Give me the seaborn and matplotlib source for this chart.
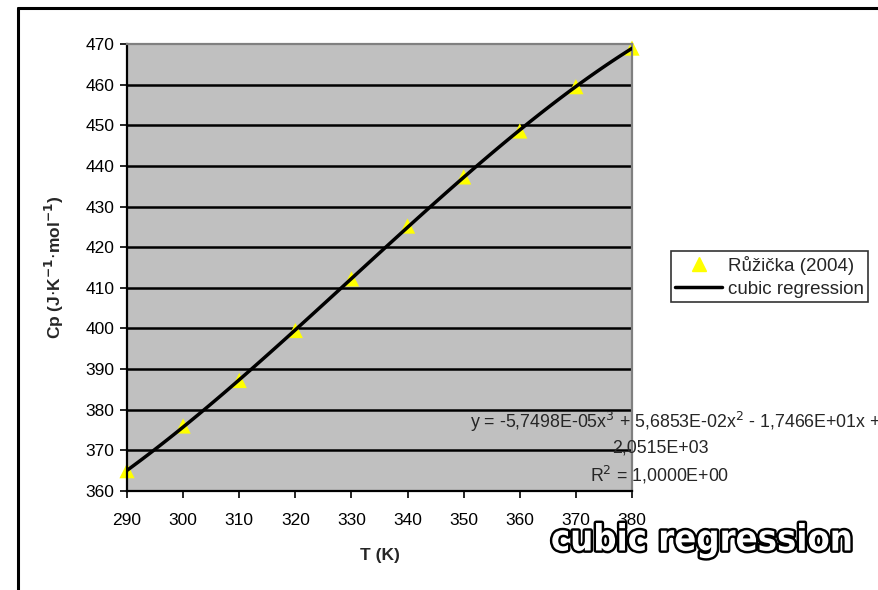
import numpy as np
import pandas as pd
import matplotlib
matplotlib.use('Agg')
import matplotlib.pyplot as plt
import matplotlib.patheffects as pe
from matplotlib.lines import Line2D
import seaborn as sns

# data
T = [290, 300, 310, 320, 330, 340, 350, 360, 370, 380]
Cp = [365.0, 376.0, 387.2, 399.5, 412.2, 425.2, 437.3, 448.6, 459.5, 469.0]
y_ticks = [360, 370, 380, 390, 400, 410, 420, 430, 440, 450, 460, 470]
x_ticks = [290, 300, 310, 320, 330, 340, 350, 360, 370, 380]

df = pd.DataFrame({'T': T, 'Cp': Cp})

sns.set_theme(style='white')
plt.rcParams['font.family'] = ['Liberation Sans', 'DejaVu Sans']

fig = plt.figure(figsize=(8.79, 5.90), dpi=100)
ax = fig.add_axes([0.1445, 0.1678, 0.5745, 0.7576])
ax.set_facecolor('#c0c0c0')

# cubic regression line
sns.regplot(data=df, x='T', y='Cp', order=3, ci=None, scatter=False,
            line_kws={'color': 'black', 'lw': 2.5, 'zorder': 3}, ax=ax)
sns.scatterplot(data=df, x='T', y='Cp', marker='^', s=120, color='#ffff00',
                edgecolor='none', zorder=2, ax=ax, clip_on=False)

ax.set_xlim(290, 380)
ax.set_ylim(360, 470)
ax.set_xticks(x_ticks)
ax.set_yticks(y_ticks)
for yv in y_ticks[1:-1]:
    ax.axhline(yv, color='black', lw=1.8, zorder=1)

ax.tick_params(axis='both', direction='out', length=5, width=1.2, color='black',
               labelsize=12.5, colors='black', bottom=True, left=True)
ax.tick_params(axis='x', pad=11)
ax.tick_params(axis='y', pad=4)
for s in ['left', 'bottom']:
    ax.spines[s].set_color('black')
    ax.spines[s].set_linewidth(1.6)
for s in ['top', 'right']:
    ax.spines[s].set_color('#808080')
    ax.spines[s].set_linewidth(1.6)

ax.set_xlabel('T (K)', fontsize=12.5, fontweight='bold', labelpad=14)
ax.set_ylabel(r'Cp (J$\cdot$K$^{\mathbf{-1}}$$\cdot$mol$^{\mathbf{-1}}$)',
              fontsize=12.5, fontweight='bold', labelpad=14)

# equation of the trendline
fig.text(0.768, 0.285, r'y = -5,7498E-05x$^3$ + 5,6853E-02x$^2$ - 1,7466E+01x +',
         fontsize=12.8, ha='center', va='center')
fig.text(0.751, 0.240, '2,0515E+03', fontsize=12.8, ha='center', va='center')
fig.text(0.750, 0.195, r'R$^2$ = 1,0000E+00', fontsize=12.8, ha='center', va='center')

handles = [Line2D([], [], marker='^', color='#ffff00', ls='none', markersize=10),
           Line2D([], [], color='black', lw=2.5)]
leg = fig.legend(handles, ['Růžička (2004)', 'cubic regression'],
                 loc='center', bbox_to_anchor=(0.8754, 0.531), fontsize=13.5,
                 frameon=True, fancybox=False, handlelength=2.5,
                 borderpad=0.25, labelspacing=0.3, handletextpad=0.3, borderaxespad=0)
leg.get_frame().set_edgecolor('black')
leg.get_frame().set_linewidth(1.2)

# outline title, bottom right
t = fig.text(0.7986, 0.084, 'cubic regression', fontsize=26, fontweight='bold',
             family=['DejaVu Sans'], fontstretch='condensed', color='white',
             ha='center', va='center')
t.set_path_effects([pe.withStroke(linewidth=3.5, foreground='black')])

# outer chart border (left and top only, rest is cropped)
fig.add_artist(Line2D([0.0205, 0.0205], [0.0, 0.9865], color='black', lw=2.2,
                      transform=fig.transFigure))
fig.add_artist(Line2D([0.0205, 1.0], [0.9865, 0.9865], color='black', lw=2.2,
                      transform=fig.transFigure))

fig.savefig('out.png', dpi=100)
